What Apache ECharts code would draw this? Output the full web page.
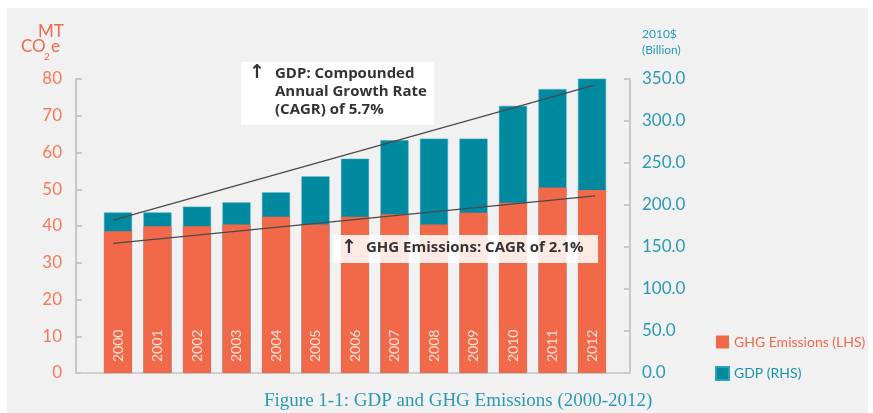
<!DOCTYPE html>
<html>
<head>
<meta charset="utf-8">
<script src="https://cdn.jsdelivr.net/npm/echarts@6/dist/echarts.min.js"></script>
<style>
  body { margin: 0; background: #fff; }
  #chart { width: 873px; height: 413px; }
</style>
</head>
<body>
<div id="chart"></div>
<script>
  // data
  var years = ['2000','2001','2002','2003','2004','2005','2006','2007','2008','2009','2010','2011','2012']
  var ghg = [38.6, 39.9, 39.9, 40.4, 42.5, 40.4, 42.5, 43.2, 40.4, 43.6, 46.3, 50.5, 49.8]
  var gdp = [191, 191, 198, 203, 215, 234, 255, 277, 279, 279, 318, 338, 354]
  var trendX = [-0.12, 12.08]
  var gdpTrend = [182, 343]
  var ghgTrend = [35.3, 48.2]
  var leftTicks = [0, 80, 10]
  var rightTicks = [0, 350, 50]

  var orange = '#f2694a'
  var teal = '#00899f'
  var font = 'Lato'

  var myChart = echarts.init(document.getElementById('chart'))

  function pairs(xs, ys) {
    return ys.map(function (v, i) { return [xs[i], v] })
  }
  var idx = years.map(function (y, i) { return i })

  myChart.setOption({
    animation: false,
    textStyle: { fontFamily: font },
    grid: { left: 76, right: 243, top: 79, bottom: 40 },
    legend: {
      orient: 'vertical',
      left: 710,
      top: 330,
      itemWidth: 13,
      itemHeight: 13,
      itemGap: 17,
      icon: 'rect',
      textStyle: { fontSize: 14, fontFamily: font },
      data: [
        { name: 'GHG Emissions (LHS)', textStyle: { color: orange } },
        { name: 'GDP (RHS)', textStyle: { color: '#1b93ad' } }
      ]
    },
    xAxis: {
      type: 'value',
      min: -1.063,
      max: 12.962,
      axisLine: { show: true, onZero: false, lineStyle: { color: '#cfcfcf', width: 2 } },
      axisTick: { show: false },
      axisLabel: { show: false },
      splitLine: { show: false }
    },
    yAxis: [{
      type: 'value',
      position: 'left',
      min: leftTicks[0], max: leftTicks[1], interval: leftTicks[2],
      axisLine: { show: true, onZero: false, lineStyle: { color: '#c8c8c8', width: 2 } },
      axisTick: { show: true, inside: true, length: 6, lineStyle: { color: '#c8c8c8', width: 2 } },
      axisLabel: { color: '#f47a5a', fontSize: 17, margin: 14 },
      splitLine: { show: false }
    }, {
      type: 'value',
      position: 'right',
      min: rightTicks[0], max: rightTicks[1], interval: rightTicks[2],
      axisLine: { show: true, onZero: false, lineStyle: { color: '#c8c8c8', width: 2 } },
      axisTick: { show: true, inside: true, length: 6, lineStyle: { color: '#c8c8c8', width: 2 } },
      axisLabel: {
        color: '#2a9ab5', fontSize: 17, margin: 12,
        formatter: function (v) { return v.toFixed(1) }
      },
      splitLine: { show: false }
    }],
    series: [{
      name: 'GDP (RHS)',
      type: 'bar',
      yAxisIndex: 1,
      barWidth: 28,
      barGap: '-100%',
      itemStyle: { color: teal, borderColor: '#2aa3b8', borderWidth: 0.6 },
      data: pairs(idx, gdp)
    }, {
      name: 'GHG Emissions (LHS)',
      type: 'bar',
      yAxisIndex: 0,
      barWidth: 28,
      barGap: '-100%',
      itemStyle: { color: orange },
      label: {
        show: true,
        position: 'insideBottom',
        distance: 11,
        rotate: 90,
        align: 'left',
        verticalAlign: 'middle',
        color: '#fde3da',
        fontSize: 14,
        fontFamily: font,
        formatter: function (p) { return years[p.dataIndex] }
      },
      data: pairs(idx, ghg)
    }, {
      name: 'gdpTrend',
      type: 'line',
      yAxisIndex: 1,
      showSymbol: false,
      silent: true,
      z: 5,
      lineStyle: { color: '#4a4a4a', width: 1.3 },
      data: pairs(trendX, gdpTrend)
    }, {
      name: 'ghgTrend',
      type: 'line',
      yAxisIndex: 0,
      showSymbol: false,
      silent: true,
      z: 5,
      lineStyle: { color: '#4a4a4a', width: 1.3 },
      data: pairs(trendX, ghgTrend)
    }],
    graphic: [
      { type: 'rect', z: -10, shape: { x: 7, y: 8, width: 861, height: 405 }, style: { fill: '#f1f1f1' } },
      // left axis unit
      { type: 'text', left: 38, top: 23, style: { text: 'MT', fill: orange, font: '17px ' + font } },
      { type: 'text', left: 21, top: 38, style: { text: 'CO', fill: orange, font: '17px ' + font } },
      { type: 'text', left: 44, top: 52, style: { text: '2', fill: orange, font: '10px ' + font } },
      { type: 'text', left: 51, top: 38, style: { text: 'e', fill: orange, font: '17px ' + font } },
      // right axis unit
      { type: 'text', left: 642, top: 28, style: { text: '2010$', fill: '#2a9ab5', font: '12px ' + font } },
      { type: 'text', left: 642, top: 44, style: { text: '(Billion)', fill: '#2a9ab5', font: '12px ' + font } },
      // GDP annotation
      { type: 'rect', z: 100, shape: { x: 241, y: 62, width: 193, height: 63 }, style: { fill: '#ffffff' } },
      { type: 'text', z: 101, left: 249, top: 64, style: { text: '↑', fill: '#333', font: 'bold 19px "DejaVu Sans"' } },
      { type: 'text', z: 101, left: 275, top: 65, style: { text: 'GDP: Compounded\nAnnual Growth Rate\n(CAGR) of 5.7%', fill: '#333', font: 'bold 15px "Open Sans"', lineHeight: 18 } },
      // GHG annotation
      { type: 'rect', z: 100, shape: { x: 333, y: 235, width: 265, height: 28 }, style: { fill: 'rgba(255,255,255,0.86)' } },
      { type: 'text', z: 101, left: 341, top: 239, style: { text: '↑', fill: '#333', font: 'bold 19px "DejaVu Sans"' } },
      { type: 'text', z: 101, left: 366, top: 240, style: { text: 'GHG Emissions: CAGR of 2.1%', fill: '#333', font: 'bold 15px "Open Sans"' } },
      // caption
      { type: 'text', left: 264, top: 392, style: { text: 'Figure 1-1: GDP and GHG Emissions (2000-2012)', fill: '#2a9ab5', font: '19px "Liberation Serif"' } }
    ]
  })
</script>
</body>
</html>
